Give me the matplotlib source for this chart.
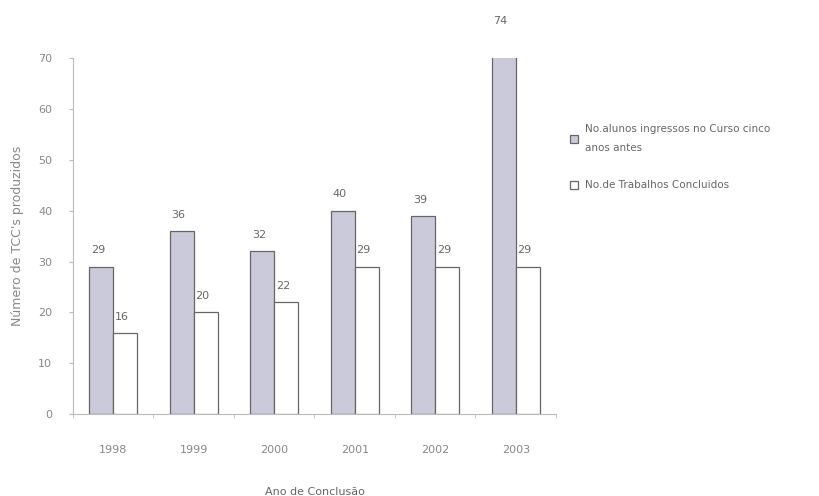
import matplotlib
matplotlib.use('Agg')

import matplotlib.pyplot as plt
import numpy as np

anos = ['1998', '1999', '2000', '2001', '2002', '2003']
ingressos = [29, 36, 32, 40, 39, 74]
concluidos = [16, 20, 22, 29, 29, 29]

cinza = '#888888'

fig = plt.figure(figsize=(8.2, 4.96), dpi=100)
ax = fig.add_axes([0.089, 0.165, 0.589, 0.718])

x = np.arange(len(anos))
w = 0.30
ax.bar(x - w / 2, ingressos, w, color='#cbcadb', edgecolor='#666666', linewidth=0.9,
       label='No.alunos ingressos no Curso cinco\nanos antes')
ax.bar(x + w / 2, concluidos, w, color='white', edgecolor='#666666', linewidth=0.9,
       label='No.de Trabalhos Concluidos')

for xi, v in zip(x - w / 2, ingressos):
    ax.text(xi - 0.04, v + 2.2, str(v), ha='center', va='bottom', fontsize=8, color='#666666', clip_on=False)
for xi, v in zip(x + w / 2, concluidos):
    ax.text(xi - 0.04, v + 2.2, str(v), ha='center', va='bottom', fontsize=8, color='#666666', clip_on=False)

ax.set_ylim(0, 70)
ax.set_xlim(-0.5, len(anos) - 0.5)
ax.set_yticks(range(0, 71, 10))
ax.set_xticks(x)
ax.set_xticklabels(anos)
ax.set_xticks(np.arange(-0.5, len(anos)), minor=True)
ax.tick_params(axis='x', which='major', length=0, pad=22, labelsize=8, labelcolor=cinza)
ax.tick_params(axis='x', which='minor', length=3, color='#bbbbbb')
ax.tick_params(axis='y', length=3, color='#bbbbbb', labelsize=8, labelcolor=cinza, pad=12)

for s in ['top', 'right']:
    ax.spines[s].set_visible(False)
for s in ['left', 'bottom']:
    ax.spines[s].set_color('#bbbbbb')

ax.set_xlabel('Ano de Conclusão', fontsize=8, color='#666666', labelpad=23)
ax.set_ylabel("Número de TCC's produzidos", fontsize=9, color=cinza, labelpad=10)

leg = ax.legend(loc='upper left', bbox_to_anchor=(1.01, 0.84), frameon=False, fontsize=7.5,
                labelcolor='#666666', handlelength=0.8, handleheight=0.8, handletextpad=0.6,
                labelspacing=2.6)
for t in leg.get_texts():
    t.set_linespacing(2.1)

plt.savefig('out.png', dpi=100)
